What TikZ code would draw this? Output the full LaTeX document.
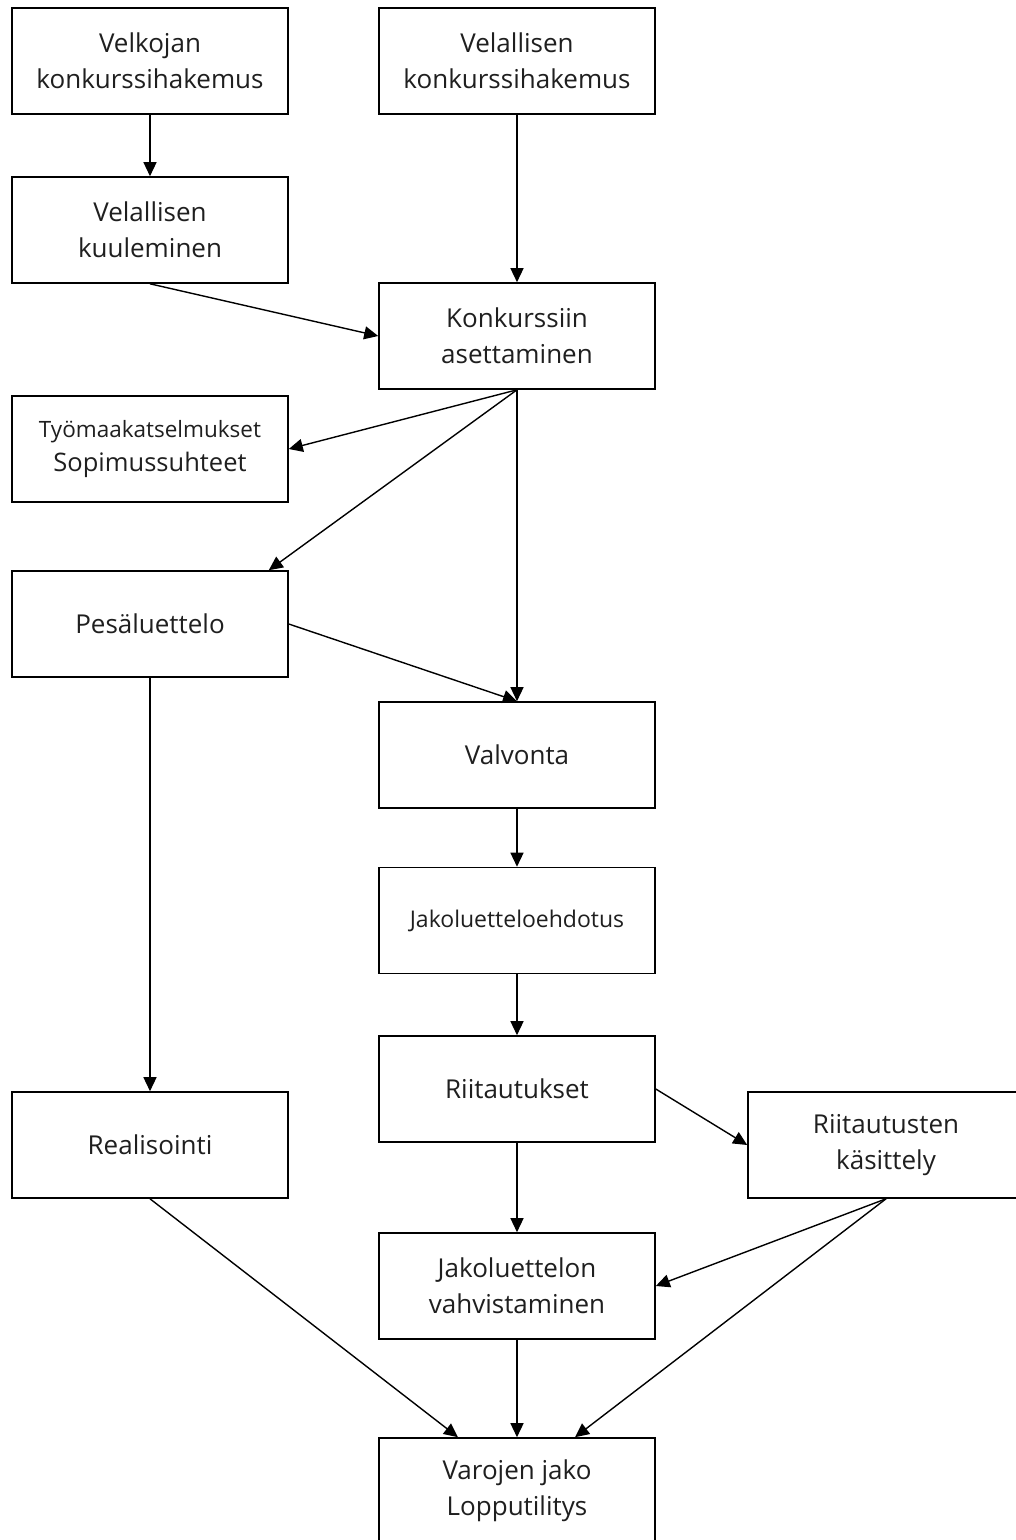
\documentclass[tikz,border=0pt]{standalone}
\usepackage{fontspec}
\setmainfont{Open Sans}
\usetikzlibrary{arrows.meta}
\begin{document}
\begin{tikzpicture}[x=1pt,y=-1pt,
  box/.style={draw,line width=1.6pt,minimum width=276pt,minimum height=106pt,inner sep=0pt,align=center,text=black!88,font=\fontsize{26}{36}\selectfont},
  smallbox/.style={box,font=\fontsize{24}{34}\selectfont},
  arr/.style={line width=1.4pt,-{Triangle[length=14pt,width=13pt]}}]
\useasboundingbox (0,0) rectangle (1016,1540);
\fill[white] (0,0) rectangle (1016,1540);
\clip (0,0) rectangle (1016,1540);
\node[box] (velk) at (150,61) {Velkojan\\konkurssihakemus};
\node[box] (velh) at (517,61) {Velallisen\\konkurssihakemus};
\node[box] (kuul) at (150,230) {Velallisen\\kuuleminen};
\node[box] (kaset) at (517,336) {Konkurssiin\\asettaminen};
\node[smallbox] (tyom) at (150,449) {{\fontsize{22.5}{34}\selectfont Työmaakatselmukset}\\{\fontsize{25.5}{34}\selectfont Sopimussuhteet}};
\node[box] (pes) at (150,624) {Pesäluettelo};
\node[box] (valv) at (517,755) {Valvonta};
\node[box,font=\fontsize{23}{34}\selectfont] (jakoe) at (517,920.5) {Jakoluetteloehdotus};
\node[box] (riit) at (517,1089) {Riitautukset};
\node[box] (real) at (150,1145) {Realisointi};
\node[box] (rkas) at (886,1145) {Riitautusten\\käsittely};
\node[box] (jakv) at (517,1286) {Jakoluettelon\\vahvistaminen};
\node[box] (varo) at (517,1491) {Varojen jako\\Lopputilitys};
\draw[arr] (velk) -- (kuul);
\draw[arr] (velh) -- (kaset);
\draw[arr] (kuul.south) -- (kaset.west);
\draw[arr] (kaset.south) -- (tyom.east);
\draw[arr] (kaset.south) -- ([xshift=-20pt]pes.north east);
\draw[arr] (kaset.south) -- (valv.north);
\draw[arr] (pes.east) -- (valv.north);
\draw[arr] (pes) -- (real);
\draw[arr] (valv) -- (jakoe);
\draw[arr] (jakoe) -- (riit);
\draw[arr] (riit.east) -- (rkas.west);
\draw[arr] (riit) -- (jakv);
\draw[arr] (rkas.south) -- (jakv.east);
\draw[arr] (rkas.south) -- ([xshift=58pt]varo.north);
\draw[arr] (real.south) -- ([xshift=-59pt]varo.north);
\draw[arr] (jakv) -- (varo);
\end{tikzpicture}
\end{document}
